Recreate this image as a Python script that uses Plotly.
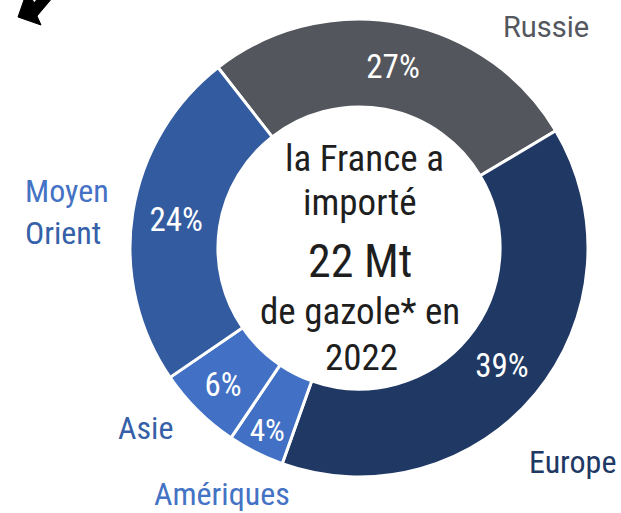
import plotly.graph_objects as go

W, H = 621, 513

regions = ["Russie", "Europe", "Amériques", "Asie", "Moyen Orient"]
shares = [27, 39, 4, 6, 24]
slice_colors = ["#53565c", "#203864", "#4170c4", "#4170c4", "#335b9f"]

center_lines = ["la France a", "importé", "22 Mt", "de gazole* en", "2022"]

NARROW = "Roboto Condensed, Arial Narrow, sans-serif"

def px(x):
    return x / W

def py(y):
    return 1 - y / H

fig = go.Figure()
fig.add_trace(go.Pie(
    labels=regions,
    values=shares,
    sort=False,
    direction="clockwise",
    rotation=-38,
    hole=0.616,
    marker=dict(colors=slice_colors, line=dict(color="white", width=3)),
    texttemplate="%{value}%",
    textposition="inside",
    insidetextorientation="horizontal",
    textfont=dict(family=NARROW, size=33, color="white"),
    domain=dict(x=[px(130), px(588)], y=[py(477), py(19)]),
    showlegend=False,
    hoverinfo="label+percent",
))

# outer category labels
label_specs = [
    ("Russie", 546, 27, "#54575e", "center", "Roboto, sans-serif", 29),
    ("<span style='color:#4472c4'>Moyen</span><br><span style='color:#3461a8'>Orient</span>", 23, 212, "#3a66b5", "left", NARROW, 32),
    ("Asie", 145, 428, "#3560a8", "center", NARROW, 32),
    ("Amériques", 222, 494, "#4472c4", "center", NARROW, 32),
    ("Europe", 572, 462, "#203864", "center", NARROW, 32),
]
for txt, x, y, col, anchor, fam, size in label_specs:
    fig.add_annotation(
        x=px(x), y=py(y), xref="paper", yref="paper", text=txt,
        showarrow=False, xanchor=anchor, yanchor="middle", align=anchor,
        font=dict(family=fam, size=size, color=col),
    )

# centre text
center_x = [364, 360, 360, 360, 361]
center_y = [158, 203, 261, 311, 357]
center_size = [37, 37, 46, 37, 37]
for txt, x, y, s in zip(center_lines, center_x, center_y, center_size):
    fig.add_annotation(
        x=px(x), y=py(y), xref="paper", yref="paper", text=txt,
        showarrow=False, xanchor="center", yanchor="middle",
        font=dict(family=NARROW, size=s, color="#1e1e1e"),
    )

# decorative arrow in the top-left corner
arrow_pts = [(18, 17), (41, 25), (37, 16), (53, -3), (39, -3), (34, 3), (31, -3), (25, -3)]
path = "M " + " L ".join(f"{px(x)},{py(y)}" for x, y in arrow_pts) + " Z"
fig.add_shape(type="path", path=path, xref="paper", yref="paper",
              fillcolor="black", line=dict(color="black", width=1))

fig.update_layout(
    width=W, height=H,
    margin=dict(l=0, r=0, t=0, b=0),
    paper_bgcolor="white", plot_bgcolor="white",
)

fig.write_html("out.html", config={"displayModeBar": False},
               post_script="document.body.style.margin='0'")
